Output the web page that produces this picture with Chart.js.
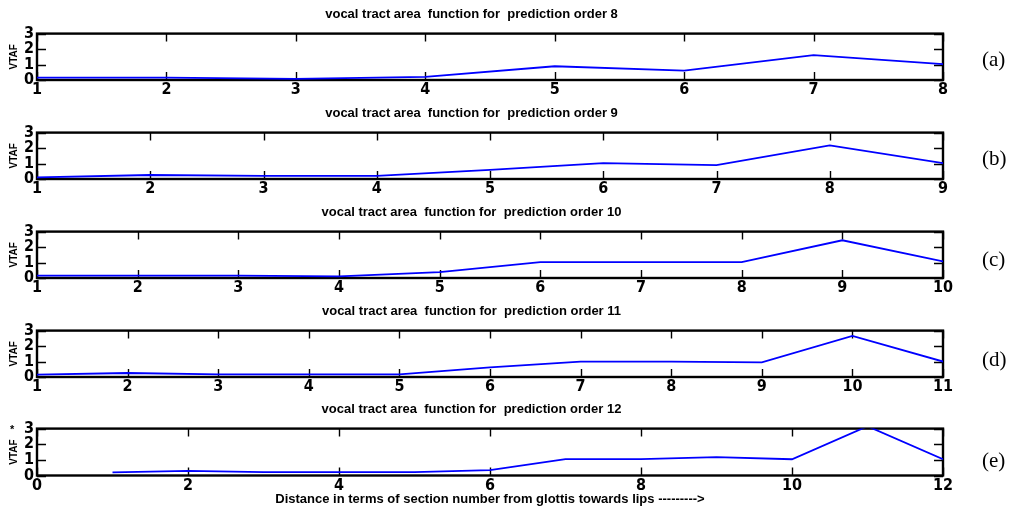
<!DOCTYPE html>
<html lang="en">
<head>
    <meta charset="UTF-8">
    <title>vocal tract area function</title>
    <script src="https://cdn.jsdelivr.net/npm/chart.js"></script>
    <style>
        body { margin: 0; background: #fff; width: 1019px; height: 510px; position: relative; overflow: hidden; }
        canvas { position: absolute; left: 0; }
        .tag { position: absolute; left: 982px; font: 21px "Liberation Serif", "Times New Roman", serif; color: #000; line-height: 24px; }
        .star { position: absolute; left: 10px; top: 423px; font: bold 11px "Liberation Sans", Arial, sans-serif; }
    </style>
</head>
<body>
    <canvas id="c8" width="1019" height="100" style="top:0px"></canvas>
    <canvas id="c9" width="1019" height="100" style="top:99px"></canvas>
    <canvas id="c10" width="1019" height="100" style="top:198px"></canvas>
    <canvas id="c11" width="1019" height="100" style="top:297px"></canvas>
    <canvas id="c12" width="1019" height="115" style="top:395px"></canvas>

    <div class="tag" style="top:47px">(a)</div>
    <div class="tag" style="top:146px">(b)</div>
    <div class="tag" style="top:247px">(c)</div>
    <div class="tag" style="top:347px">(d)</div>
    <div class="tag" style="top:448px">(e)</div>
    <div class="star">*</div>

    <script>
        // prediction orders, one panel each
        const orders = [8, 9, 10, 11, 12];
        // VTAF per section (section 1..order)
        const vtaf8 = [0.15, 0.15, 0.07, 0.2, 0.89, 0.61, 1.61, 1.02];
        const vtaf9 = [0.1, 0.26, 0.2, 0.2, 0.59, 1.02, 0.9, 2.17, 1.02];
        const vtaf10 = [0.15, 0.15, 0.15, 0.1, 0.38, 1.03, 1.03, 1.03, 2.44, 1.07];
        const vtaf11 = [0.15, 0.26, 0.17, 0.17, 0.17, 0.62, 1.0, 1.0, 0.95, 2.66, 1.0];
        const vtaf12 = [0.2, 0.3, 0.22, 0.22, 0.22, 0.34, 1.05, 1.05, 1.18, 1.04, 3.15, 1.04];
        const allVtaf = [vtaf8, vtaf9, vtaf10, vtaf11, vtaf12];
        // x axis range and tick step per panel
        const xMin = [1, 1, 1, 1, 0];
        const xStep = [1, 1, 1, 1, 2];
        const yTicks = [0, 1, 2, 3];

        const tickFont = { family: "'Liberation Sans Narrow', 'DejaVu Sans Condensed', 'Arial Narrow', sans-serif", size: 16, weight: 'bold', lineHeight: 1 };
        const textFont = { family: "'Liberation Sans', Arial, sans-serif", size: 13, weight: 'bold' };

        // matlab style box with inward ticks on all four sides
        const frameTicks = {
            id: 'frameTicks',
            beforeDatasetsDraw(chart) {
                const { ctx, chartArea: a, scales: { x, y } } = chart;
                ctx.save();
                ctx.strokeStyle = '#000';
                ctx.lineWidth = 1.4;
                ctx.beginPath();
                x.ticks.forEach((t, i) => {
                    const px = Math.round(x.getPixelForTick(i)) + 0.5;
                    ctx.moveTo(px, a.top); ctx.lineTo(px, a.top + 8);
                    ctx.moveTo(px, a.bottom); ctx.lineTo(px, a.bottom - 8);
                });
                y.ticks.forEach((t, i) => {
                    const py = Math.round(y.getPixelForTick(i)) + 0.5;
                    ctx.moveTo(a.left, py); ctx.lineTo(a.left + 9, py);
                    ctx.moveTo(a.right, py); ctx.lineTo(a.right - 9, py);
                });
                ctx.stroke();
                ctx.lineWidth = 2.4;
                ctx.strokeRect(a.left, a.top, a.right - a.left, a.bottom - a.top);
                ctx.restore();
            }
        };

        orders.forEach((order, k) => {
            const vals = allVtaf[k];
            const last = k === orders.length - 1;
            const points = vals.map((v, i) => ({ x: i + 1, y: v }));
            new Chart(document.getElementById('c' + order), {
                type: 'line',
                data: {
                    datasets: [{
                        data: points,
                        borderColor: '#0000ff',
                        borderWidth: 1.8,
                        pointRadius: 0,
                        fill: false,
                        tension: 0
                    }]
                },
                options: {
                    responsive: false,
                    animation: false,
                    events: [],
                    layout: { padding: { left: 0, right: 76, top: 7, bottom: 0 } },
                    plugins: {
                        legend: { display: false },
                        tooltip: { enabled: false },
                        title: {
                            display: true,
                            text: 'vocal tract area  function for  prediction order ' + order,
                            color: '#000',
                            font: textFont,
                            padding: { top: 0, bottom: 11 }
                        }
                    },
                    scales: {
                        x: {
                            type: 'linear',
                            min: xMin[k],
                            max: order,
                            grid: { display: false, drawTicks: false },
                            border: { display: false },
                            ticks: { stepSize: xStep[k], color: '#000', font: tickFont, padding: 2, maxRotation: 0 },
                            title: {
                                display: last,
                                text: 'Distance in terms of section number from glottis towards lips --------->',
                                color: '#000',
                                font: textFont,
                                padding: { top: 0, bottom: 3 }
                            },
                            afterFit(scale) { scale.height = last ? 34.5 : 20; }
                        },
                        y: {
                            min: 0,
                            max: 3,
                            afterBuildTicks(scale) { scale.ticks = yTicks.map(v => ({ value: v })); },
                            grid: { display: false, drawTicks: false },
                            border: { display: false },
                            ticks: { color: '#000', font: tickFont, padding: 3, autoSkip: false },
                            title: {
                                display: true,
                                text: 'VTAF',
                                color: '#000',
                                font: { family: "'Liberation Sans', Arial, sans-serif", size: 10, weight: 'bold' },
                                padding: { top: 8, bottom: 0 }
                            },
                            afterFit(scale) { scale.width = 37; }
                        }
                    }
                },
                plugins: [frameTicks]
            });
        });
    </script>
</body>
</html>
